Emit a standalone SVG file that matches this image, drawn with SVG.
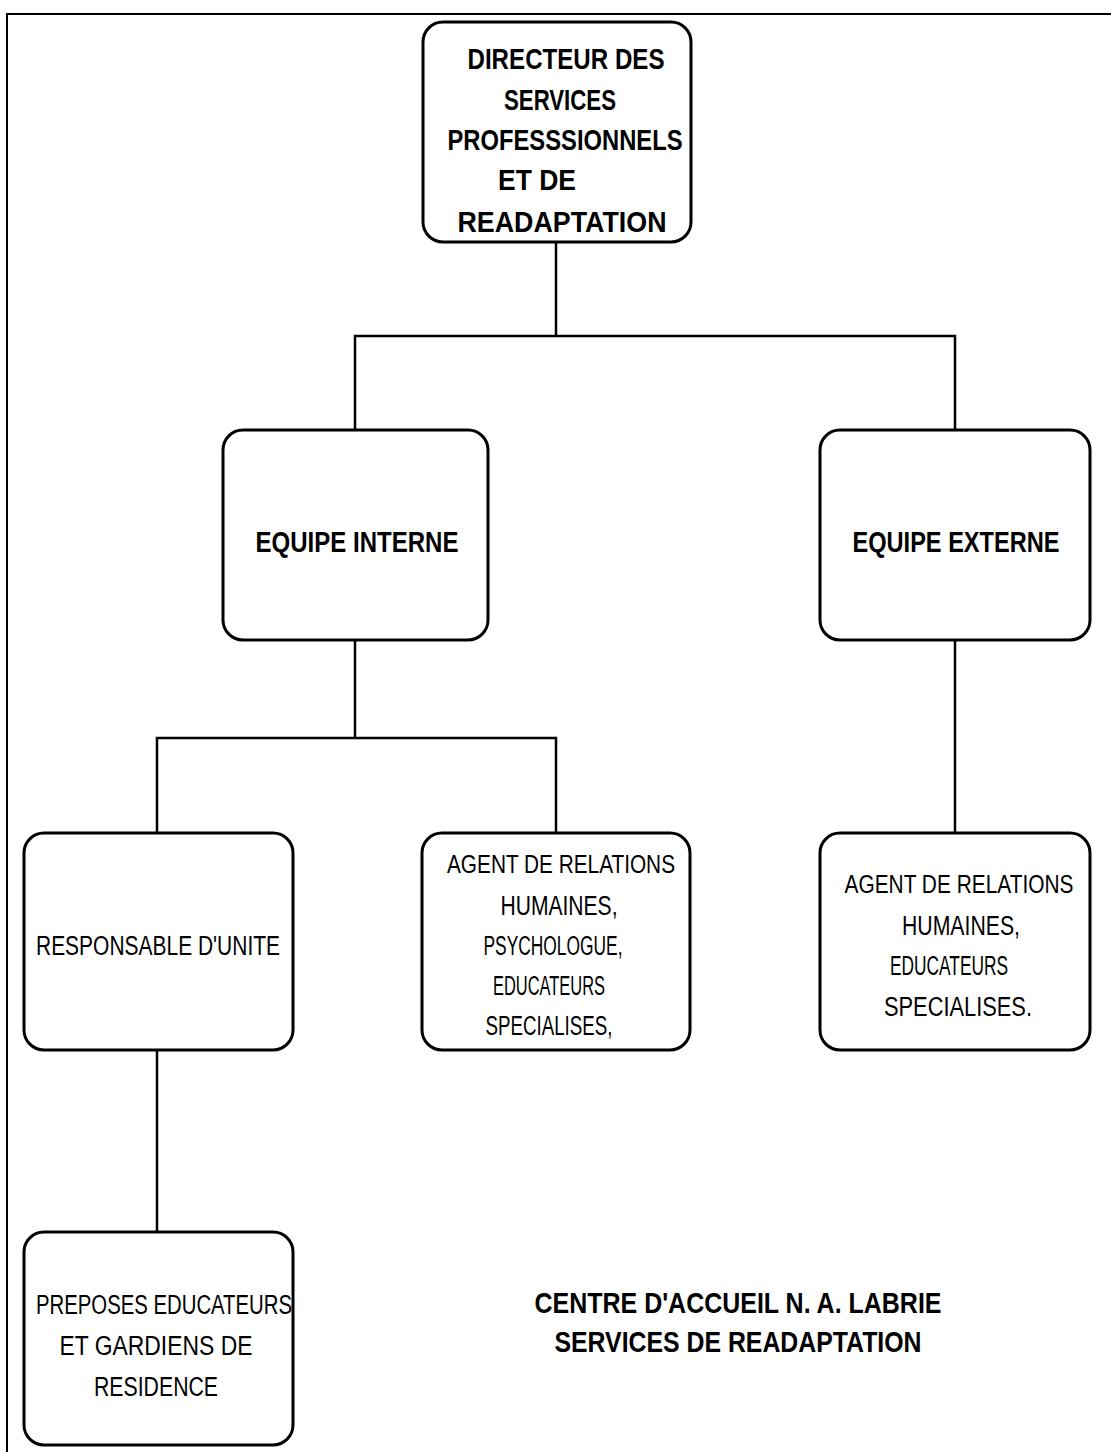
<svg xmlns="http://www.w3.org/2000/svg" width="1111" height="1452" viewBox="0 0 1111 1452">
  <style>
    .box { fill: #ffffff; stroke: #000000; stroke-width: 3; }
    .wire { fill: none; stroke: #000000; stroke-width: 2.5; }
    .frame { fill: none; stroke: #000000; stroke-width: 2; }
    .hd { font-family: "Liberation Sans", Arial, sans-serif; font-weight: bold; font-size: 30px; fill: #000000; text-anchor: middle; }
    .tx { font-family: "Liberation Sans", Arial, sans-serif; font-size: 27px; fill: #000000; text-anchor: middle; }
    .sm { font-size: 25px; }
  </style>

  <rect width="1111" height="1452" fill="#ffffff"/>

  <!-- page frame -->
  <path class="frame" d="M7,1452 V14 H1111"/>

  <!-- connectors -->
  <g id="connectors">
    <path class="wire" d="M556,242 V336"/>
    <path class="wire" d="M355,430 V336 H955 V430"/>
    <path class="wire" d="M355,640 V738"/>
    <path class="wire" d="M157,833 V738 H556 V833"/>
    <path class="wire" d="M955,640 V833"/>
    <path class="wire" d="M157,1050 V1232"/>
  </g>

  <g id="directeur">
    <rect class="box" x="423" y="22" width="268" height="220" rx="20"/>
    <text class="hd" x="566" y="69" textLength="197" lengthAdjust="spacingAndGlyphs">DIRECTEUR DES</text>
    <text class="hd" x="560" y="110" textLength="112" lengthAdjust="spacingAndGlyphs">SERVICES</text>
    <text class="hd" x="565" y="150" textLength="235" lengthAdjust="spacingAndGlyphs">PROFESSSIONNELS</text>
    <text class="hd" x="537" y="190" textLength="78" lengthAdjust="spacingAndGlyphs">ET DE</text>
    <text class="hd" x="562" y="232" textLength="209" lengthAdjust="spacingAndGlyphs">READAPTATION</text>
  </g>

  <g id="equipe-interne">
    <rect class="box" x="223" y="430" width="265" height="210" rx="20"/>
    <text class="hd" x="357" y="552" textLength="203" lengthAdjust="spacingAndGlyphs">EQUIPE INTERNE</text>
  </g>

  <g id="equipe-externe">
    <rect class="box" x="820" y="430" width="270" height="210" rx="20"/>
    <text class="hd" x="956" y="552" font-size="28" textLength="207" lengthAdjust="spacingAndGlyphs">EQUIPE EXTERNE</text>
  </g>

  <g id="responsable">
    <rect class="box" x="24" y="833" width="269" height="217" rx="20"/>
    <text class="tx" x="158" y="955" textLength="244" lengthAdjust="spacingAndGlyphs">RESPONSABLE D'UNITE</text>
  </g>

  <g id="agents-interne">
    <rect class="box" x="422" y="833" width="268" height="217" rx="20"/>
    <text class="tx sm" x="561" y="873" textLength="228" lengthAdjust="spacingAndGlyphs">AGENT DE RELATIONS</text>
    <text class="tx" x="559" y="915" textLength="117" lengthAdjust="spacingAndGlyphs">HUMAINES,</text>
    <text class="tx" x="553" y="955" textLength="139" lengthAdjust="spacingAndGlyphs">PSYCHOLOGUE,</text>
    <text class="tx" x="549" y="995" textLength="112" lengthAdjust="spacingAndGlyphs">EDUCATEURS</text>
    <text class="tx" x="549" y="1035" textLength="127" lengthAdjust="spacingAndGlyphs">SPECIALISES,</text>
  </g>

  <g id="agents-externe">
    <rect class="box" x="820" y="833" width="270" height="217" rx="20"/>
    <text class="tx sm" x="959" y="893" textLength="229" lengthAdjust="spacingAndGlyphs">AGENT DE RELATIONS</text>
    <text class="tx" x="961" y="935" textLength="118" lengthAdjust="spacingAndGlyphs">HUMAINES,</text>
    <text class="tx" x="949" y="975" textLength="118" lengthAdjust="spacingAndGlyphs">EDUCATEURS</text>
    <text class="tx" x="958" y="1016" textLength="148" lengthAdjust="spacingAndGlyphs">SPECIALISES.</text>
  </g>

  <g id="preposes">
    <rect class="box" x="24" y="1232" width="269" height="213" rx="20"/>
    <text class="tx" x="164" y="1314" textLength="256" lengthAdjust="spacingAndGlyphs">PREPOSES EDUCATEURS</text>
    <text class="tx" x="156" y="1355" textLength="193" lengthAdjust="spacingAndGlyphs">ET GARDIENS DE</text>
    <text class="tx" x="156" y="1396" textLength="124" lengthAdjust="spacingAndGlyphs">RESIDENCE</text>
  </g>

  <g id="titre">
    <text class="hd" x="738" y="1313" textLength="407" lengthAdjust="spacingAndGlyphs">CENTRE D'ACCUEIL N. A. LABRIE</text>
    <text class="hd" x="738" y="1352" textLength="367" lengthAdjust="spacingAndGlyphs">SERVICES DE READAPTATION</text>
  </g>
</svg>
